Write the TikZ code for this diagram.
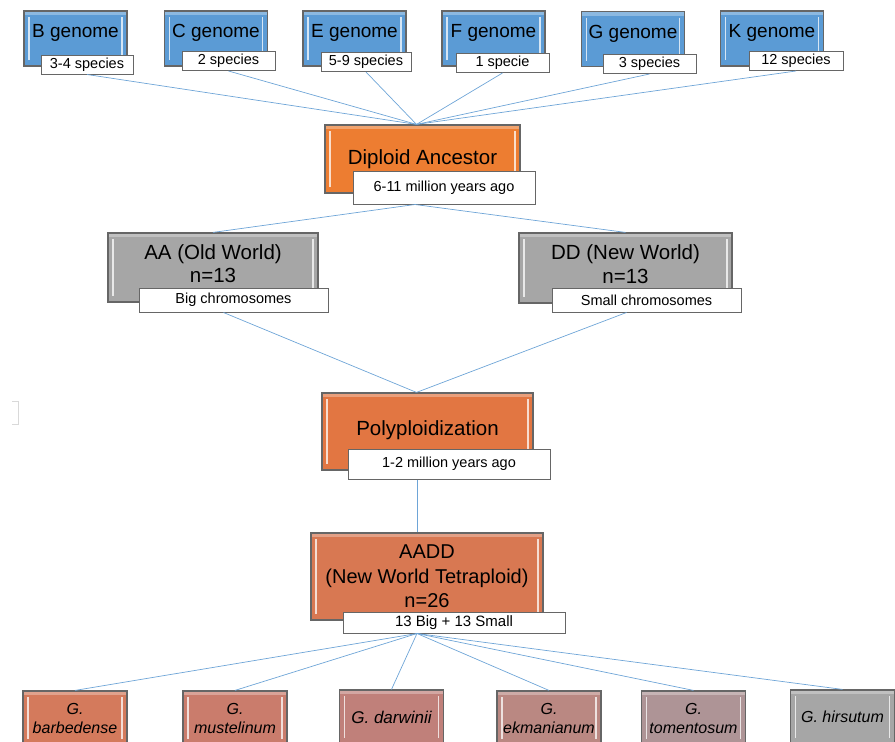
\documentclass[tikz,border=0pt]{standalone}
\usepackage{fontspec}
\setmainfont{Liberation Sans}
\usepackage{tikz}
\usetikzlibrary{positioning}
\definecolor{genblue}{RGB}{91,155,213}
\definecolor{linkcolor}{RGB}{110,165,215}
\definecolor{ancorange}{RGB}{237,125,49}
\definecolor{polyorange}{RGB}{226,118,66}
\definecolor{aaddcolor}{RGB}{216,120,82}
\definecolor{wildgray}{RGB}{166,166,166}
\definecolor{spA}{RGB}{212,122,92}
\definecolor{spB}{RGB}{202,124,108}
\definecolor{spC}{RGB}{192,128,122}
\definecolor{spD}{RGB}{186,136,130}
\definecolor{spE}{RGB}{174,148,150}
\definecolor{spF}{RGB}{166,166,166}

\begin{document}
\begin{tikzpicture}[%
    x=1pt, y=-1pt,              % pixel grid, y going down
    ]
\tikzset{
  bevel/.style={path picture={
    \fill[white,opacity=0.3] (path picture bounding box.north west) rectangle ([yshift=-4pt]path picture bounding box.north east);
    \draw[white,opacity=0.75,line width=1.6pt] ([xshift=5pt,yshift=-6pt]path picture bounding box.north west) -- ([xshift=5pt,yshift=6pt]path picture bounding box.south west);
    \draw[white,opacity=0.75,line width=1.6pt] ([xshift=-5pt,yshift=-6pt]path picture bounding box.north east) -- ([xshift=-5pt,yshift=6pt]path picture bounding box.south east);
  }},
  base/.style={draw=black!60, line width=1.2pt, bevel, align=center, inner sep=0pt},
  genome/.style={base, fill=genblue, minimum width=103pt, minimum height=55pt, text depth=15pt, font=\fontsize{19}{21}\selectfont},
  stage/.style={base, font=\fontsize{20.5}{23.5}\selectfont},
  species/.style={base, minimum width=104pt, minimum height=54pt, font=\fontsize{16}{19}\selectfont\itshape},
  note/.style={draw=black!60, fill=white, line width=1pt, inner sep=0pt, minimum height=19pt, font=\fontsize{14.5}{16}\selectfont},
  link/.style={draw=linkcolor, line width=0.7pt},
}
\clip (0,0) rectangle (895,742);

% genome groups
\node [genome] (gB) at (75.5,38.5) {B genome};
\node [genome] (gC) at (216,38.5) {C genome};
\node [genome] (gE) at (354.5,38.5) {E genome};
\node [genome] (gF) at (493.5,38.5) {F genome};
\node [genome] (gG) at (633,39) {G genome};
\node [genome] (gK) at (772,38.5) {K genome};

\node [note, minimum width=92pt] (nB) at (87,64.5) {3-4 species};
\node [note, minimum width=93pt] (nC) at (228.5,61) {2 species};
\node [note, minimum width=90pt] (nE) at (366,62) {5-9 species};
\node [note, minimum width=93pt] (nF) at (502.5,63) {1 specie};
\node [note, minimum width=93pt] (nG) at (649.5,64) {3 species};
\node [note, minimum width=94pt] (nK) at (796,61) {12 species};

% ancestors
\node [stage, fill=ancorange, minimum width=195pt, minimum height=68pt] (dip) at (422.5,159) {Diploid Ancestor};
\node [note, minimum width=182pt, minimum height=33pt] (ndip) at (444,187.5) {6-11 million years ago};

\node [stage, fill=wildgray, minimum width=210pt, minimum height=69pt, text depth=8pt] (aa) at (213,267.5) {AA (Old World)\\n=13};
\node [note, minimum width=189pt, minimum height=24pt] (naa) at (233.5,300) {Big chromosomes};
\node [stage, fill=wildgray, minimum width=213pt, minimum height=70pt, text depth=8pt] (dd) at (625.5,268) {DD (New World)\\n=13};
\node [note, minimum width=189pt, minimum height=24pt] (ndd) at (646.5,300) {Small chromosomes};

\node [stage, fill=polyorange, minimum width=211pt, minimum height=77pt, text depth=6pt] (poly) at (427.5,431.5) {Polyploidization};
\node [note, minimum width=202pt, minimum height=30pt] (npoly) at (449,464) {1-2 million years ago};

\node [stage, fill=aaddcolor, minimum width=232pt, minimum height=87pt, font=\fontsize{20}{24.5}\selectfont] (aadd) at (427,576.5) {AADD\\(New World Tetraploid)\\n=26};
\node [note, minimum width=222pt, minimum height=21pt, font=\fontsize{15}{17}\selectfont] (naadd) at (454,622.5) {13 Big + 13 Small};

% tetraploid species
\node [species, fill=spA] (sp1) at (75,718) {G.\\barbedense};
\node [species, fill=spB] (sp2) at (235,718) {G.\\mustelinum};
\node [species, fill=spC, font=\fontsize{17}{19}\selectfont\itshape] (sp3) at (391.5,717) {G. darwinii};
\node [species, fill=spD] (sp4) at (549,718) {G.\\ekmanianum};
\node [species, fill=spE] (sp5) at (693.5,718) {G.\\tomentosum};
\node [species, fill=spF] (sp6) at (842.5,717) {G. hirsutum};

% stray mark at left
\draw [black!15, line width=1pt] (12,401) -- (18,401) -- (18,424) -- (12,424);

%connect
\foreach \n in {nB,nC,nE,nF,nG,nK}
  \draw [link] (\n.south) -- ([xshift=-6pt]dip.north);
\draw [link] ([xshift=-29pt]ndip.south) -- (aa.north);
\draw [link] ([xshift=-29pt]ndip.south) -- (dd.north);
\draw [link] ([xshift=-10pt]naa.south) -- ([xshift=-11pt]poly.north);
\draw [link] ([xshift=-20pt]ndd.south) -- ([xshift=-11pt]poly.north);
\draw [link] ([xshift=-32pt]npoly.south) -- ([xshift=-10pt]aadd.north);
\foreach \s in {sp1,sp2,sp3,sp4,sp5,sp6}
  \draw [link] ([xshift=-37pt]naadd.south) -- (\s.north);

\end{tikzpicture}
\end{document}
